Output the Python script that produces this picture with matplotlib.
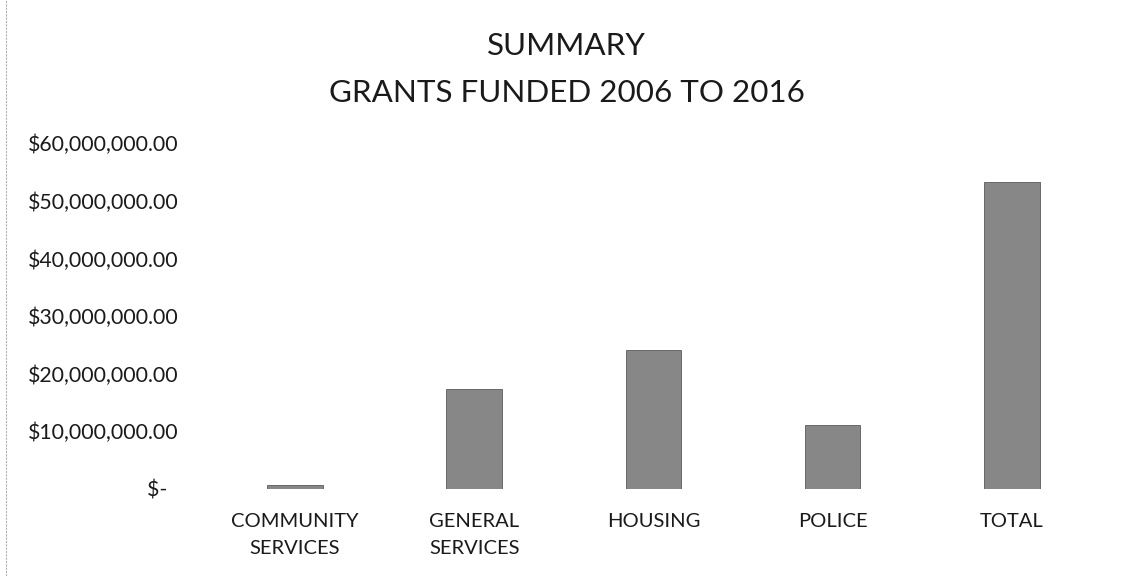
import matplotlib
matplotlib.use("Agg")
import matplotlib.pyplot as plt
from matplotlib.lines import Line2D

# data
categories = ["COMMUNITY\nSERVICES", "GENERAL\nSERVICES", "HOUSING", "POLICE", "TOTAL"]
values = [0.6e6, 17.3e6, 24.1e6, 11.0e6, 53.3e6]
yticks = [0, 10e6, 20e6, 30e6, 40e6, 50e6, 60e6]
ytick_labels = ["$-  ", "$10,000,000.00", "$20,000,000.00", "$30,000,000.00",
                "$40,000,000.00", "$50,000,000.00", "$60,000,000.00"]

plt.rcParams["font.family"] = ["Lato", "DejaVu Sans"]

fig = plt.figure(figsize=(11.27, 5.76), dpi=100)
ax = fig.add_axes([0.1823, 0.1516, 0.795, 0.5997])

ax.bar(range(len(categories)), values, width=0.31, color="#878787",
       edgecolor="#5a5a5a", linewidth=0.6)

ax.set_xlim(-0.5, len(categories) - 0.5)
ax.set_ylim(0, 60e6)
ax.set_yticks(yticks)
ax.set_yticklabels(ytick_labels, fontsize=15.3, color="#1a1a1a")
ax.set_xticks(range(len(categories)))
ax.set_xticklabels(categories, fontsize=14.5, color="#1a1a1a", linespacing=1.67)
ax.tick_params(axis="y", length=0, pad=19.5)
ax.tick_params(axis="x", length=0, pad=17.8)

for s in ax.spines.values():
    s.set_visible(False)

fig.text(0.503, 0.92, "SUMMARY", ha="center", va="center", fontsize=22.6, color="#1a1a1a")
fig.text(0.503, 0.839, "GRANTS FUNDED 2006 TO 2016", ha="center", va="center",
         fontsize=22.6, color="#1a1a1a")

# faint scan border on the left
fig.add_artist(Line2D([0.005, 0.005], [0, 1], transform=fig.transFigure,
                      color="#b0b0b0", linewidth=0.8, linestyle=(0, (2, 1))))

fig.savefig("out.png", dpi=100)
